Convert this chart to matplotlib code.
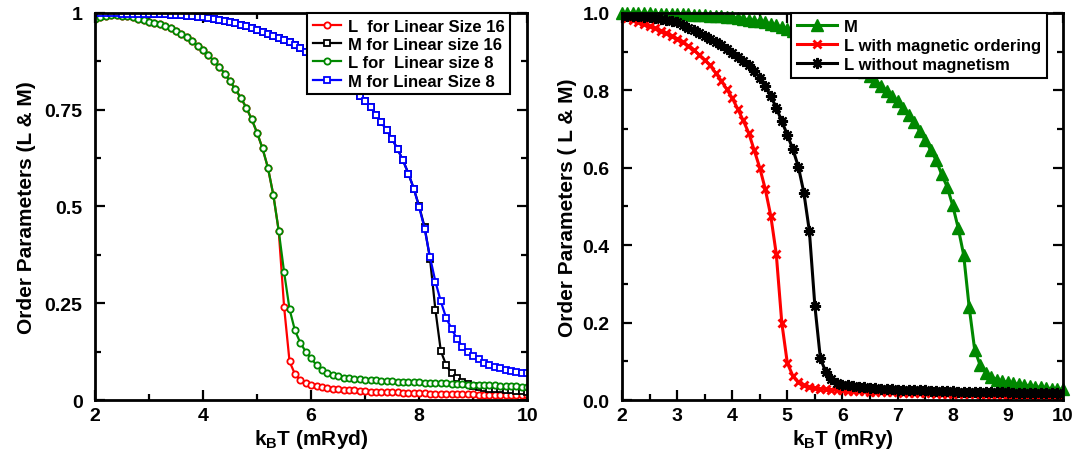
import numpy as np
import matplotlib
matplotlib.use("Agg")
import matplotlib.pyplot as plt
from matplotlib.ticker import MultipleLocator, FixedLocator

plt.rcParams['font.family'] = ['Liberation Sans', 'DejaVu Sans']
plt.rcParams['font.weight'] = 'bold'
plt.rcParams['mathtext.fontset'] = 'custom'
plt.rcParams['mathtext.rm'] = 'Liberation Sans:bold'
plt.rcParams['mathtext.it'] = 'Liberation Sans:bold'
plt.rcParams['mathtext.bf'] = 'Liberation Sans:bold'

# temperature grid (mRyd), same for all series
T = [2.0, 2.1, 2.2, 2.3, 2.4, 2.5, 2.6, 2.7, 2.8, 2.9,
     3.0, 3.1, 3.2, 3.3, 3.4, 3.5, 3.6, 3.7, 3.8, 3.9,
     4.0, 4.1, 4.2, 4.3, 4.4, 4.5, 4.6, 4.7, 4.8, 4.9,
     5.0, 5.1, 5.2, 5.3, 5.4, 5.5, 5.6, 5.7, 5.8, 5.9,
     6.0, 6.1, 6.2, 6.3, 6.4, 6.5, 6.6, 6.7, 6.8, 6.9,
     7.0, 7.1, 7.2, 7.3, 7.4, 7.5, 7.6, 7.7, 7.8, 7.9,
     8.0, 8.1, 8.2, 8.3, 8.4, 8.5, 8.6, 8.7, 8.8, 8.9,
     9.0, 9.1, 9.2, 9.3, 9.4, 9.5, 9.6, 9.7, 9.8, 9.9, 10.0]

# ---- left panel: finite size comparison ----
L_size16 = [0.985, 0.990, 0.993, 0.994, 0.994, 0.993, 0.991, 0.988, 0.985, 0.981,
            0.977, 0.974, 0.970, 0.965, 0.960, 0.953, 0.946, 0.937, 0.927, 0.915,
            0.903, 0.890, 0.876, 0.861, 0.843, 0.823, 0.802, 0.780, 0.755, 0.725,
            0.690, 0.650, 0.600, 0.530, 0.437, 0.240, 0.100, 0.067, 0.052, 0.045,
            0.040, 0.037, 0.034, 0.032, 0.030, 0.028, 0.027, 0.026, 0.025, 0.024,
            0.023, 0.022, 0.022, 0.021, 0.021, 0.020, 0.020, 0.019, 0.019, 0.018,
            0.018, 0.018, 0.017, 0.017, 0.017, 0.016, 0.016, 0.016, 0.015, 0.015,
            0.015, 0.014, 0.014, 0.014, 0.014, 0.013, 0.013, 0.013, 0.012, 0.012, 0.012]

M_size16 = [0.999, 0.999, 0.999, 0.999, 0.999, 0.998, 0.998, 0.998, 0.998, 0.997,
            0.997, 0.997, 0.996, 0.996, 0.995, 0.995, 0.994, 0.993, 0.992, 0.990,
            0.989, 0.987, 0.985, 0.982, 0.980, 0.977, 0.973, 0.969, 0.965, 0.961,
            0.956, 0.951, 0.946, 0.941, 0.936, 0.931, 0.925, 0.917, 0.908, 0.899,
            0.889, 0.879, 0.868, 0.857, 0.846, 0.835, 0.823, 0.811, 0.799, 0.786,
            0.771, 0.756, 0.737, 0.717, 0.697, 0.674, 0.648, 0.619, 0.585, 0.546,
            0.500, 0.447, 0.365, 0.233, 0.127, 0.090, 0.070, 0.058, 0.047, 0.041,
            0.037, 0.034, 0.032, 0.030, 0.029, 0.028, 0.026, 0.025, 0.024, 0.023, 0.022]

L_size8 = [0.985, 0.990, 0.993, 0.994, 0.994, 0.993, 0.991, 0.988, 0.985, 0.981,
           0.977, 0.974, 0.970, 0.965, 0.960, 0.953, 0.946, 0.937, 0.927, 0.915,
           0.903, 0.890, 0.876, 0.861, 0.843, 0.823, 0.802, 0.780, 0.755, 0.725,
           0.690, 0.650, 0.600, 0.530, 0.437, 0.330, 0.235, 0.180, 0.148, 0.125,
           0.108, 0.090, 0.079, 0.071, 0.065, 0.061, 0.058, 0.056, 0.055, 0.054,
           0.053, 0.052, 0.051, 0.050, 0.050, 0.049, 0.048, 0.047, 0.047, 0.046,
           0.046, 0.045, 0.045, 0.044, 0.043, 0.043, 0.042, 0.041, 0.041, 0.040,
           0.040, 0.039, 0.039, 0.038, 0.038, 0.037, 0.037, 0.036, 0.036, 0.035, 0.035]

M_size8 = [0.999, 0.999, 0.999, 0.999, 0.999, 0.998, 0.998, 0.998, 0.998, 0.997,
           0.997, 0.997, 0.996, 0.996, 0.995, 0.995, 0.994, 0.993, 0.992, 0.990,
           0.989, 0.987, 0.985, 0.982, 0.980, 0.977, 0.973, 0.969, 0.965, 0.961,
           0.956, 0.951, 0.946, 0.941, 0.936, 0.931, 0.925, 0.917, 0.908, 0.899,
           0.889, 0.879, 0.868, 0.857, 0.846, 0.835, 0.823, 0.811, 0.799, 0.786,
           0.771, 0.756, 0.737, 0.717, 0.697, 0.674, 0.648, 0.619, 0.585, 0.546,
           0.498, 0.443, 0.369, 0.306, 0.255, 0.212, 0.184, 0.158, 0.138, 0.125,
           0.115, 0.106, 0.097, 0.091, 0.086, 0.083, 0.078, 0.076, 0.073, 0.071, 0.070]

# ---- right panel: with / without magnetism ----
M_mag = [1.000, 1.000, 0.999, 0.999, 0.999, 0.999, 0.998, 0.998, 0.998, 0.997,
         0.997, 0.996, 0.996, 0.995, 0.994, 0.994, 0.993, 0.992, 0.991, 0.990,
         0.988, 0.986, 0.984, 0.982, 0.980, 0.978, 0.975, 0.972, 0.968, 0.963,
         0.958, 0.952, 0.946, 0.940, 0.933, 0.926, 0.918, 0.910, 0.902, 0.894,
         0.885, 0.876, 0.866, 0.856, 0.846, 0.836, 0.825, 0.812, 0.799, 0.786,
         0.771, 0.753, 0.735, 0.718, 0.696, 0.672, 0.646, 0.620, 0.583, 0.551,
         0.503, 0.445, 0.375, 0.240, 0.130, 0.090, 0.071, 0.060, 0.053, 0.049,
         0.046, 0.043, 0.041, 0.039, 0.037, 0.035, 0.033, 0.031, 0.030, 0.029, 0.028]

L_mag = [0.990, 0.986, 0.982, 0.977, 0.972, 0.966, 0.960, 0.954, 0.947, 0.940,
         0.933, 0.924, 0.915, 0.905, 0.892, 0.878, 0.864, 0.845, 0.825, 0.803,
         0.780, 0.752, 0.722, 0.690, 0.645, 0.600, 0.545, 0.476, 0.377, 0.200,
         0.096, 0.063, 0.046, 0.038, 0.033, 0.031, 0.029, 0.028, 0.027, 0.026,
         0.025, 0.024, 0.024, 0.023, 0.023, 0.022, 0.022, 0.021, 0.021, 0.020,
         0.020, 0.019, 0.019, 0.019, 0.018, 0.018, 0.018, 0.017, 0.017, 0.017,
         0.016, 0.016, 0.016, 0.015, 0.015, 0.015, 0.014, 0.014, 0.014, 0.014,
         0.013, 0.013, 0.013, 0.013, 0.012, 0.012, 0.012, 0.012, 0.011, 0.011, 0.011]

L_nomag = [0.993, 0.993, 0.992, 0.991, 0.990, 0.989, 0.987, 0.985, 0.982, 0.979,
           0.975, 0.969, 0.962, 0.955, 0.948, 0.941, 0.933, 0.925, 0.916, 0.907,
           0.897, 0.887, 0.876, 0.864, 0.850, 0.832, 0.810, 0.785, 0.755, 0.720,
           0.685, 0.648, 0.603, 0.536, 0.437, 0.244, 0.108, 0.072, 0.054, 0.045,
           0.040, 0.038, 0.036, 0.035, 0.033, 0.032, 0.031, 0.030, 0.029, 0.028,
           0.027, 0.027, 0.026, 0.026, 0.025, 0.025, 0.024, 0.024, 0.024, 0.023,
           0.023, 0.022, 0.022, 0.022, 0.021, 0.021, 0.021, 0.020, 0.020, 0.020,
           0.020, 0.019, 0.019, 0.019, 0.019, 0.018, 0.018, 0.018, 0.018, 0.018, 0.017]

GREEN = '#008800'


def style_axes(ax):
    for s in ax.spines.values():
        s.set_linewidth(2.0)
    ax.tick_params(which='both', direction='in', top=True, right=True,
                   width=1.6, labelsize=14)
    ax.tick_params(axis='x', pad=5)
    ax.tick_params(axis='y', pad=9)
    ax.tick_params(which='major', length=7)
    ax.tick_params(which='minor', length=4)
    for lab in ax.get_xticklabels() + ax.get_yticklabels():
        lab.set_fontweight('bold')


def boxed_legend(ax, gap_px, hl, spacing):
    # legend flush with the top spine, a small gap from the right spine
    fig_w = ax.figure.get_figwidth() * ax.figure.dpi
    ax_w = ax.get_position().width * fig_w
    leg = ax.legend(loc='upper right', bbox_to_anchor=(1 - gap_px / ax_w, 1.0),
                    fontsize=12, frameon=True, fancybox=False, borderaxespad=0.0,
                    handlelength=hl, handletextpad=0.4, labelspacing=spacing,
                    borderpad=0.35)
    leg.get_frame().set_edgecolor('black')
    leg.get_frame().set_linewidth(1.5)
    leg.get_frame().set_alpha(1.0)
    return leg


fig = plt.figure(figsize=(10.86, 4.6), dpi=100)
ax1 = fig.add_axes([0.0875, 0.128, 0.398, 0.842])
ax2 = fig.add_axes([0.5727, 0.128, 0.406, 0.842])

# left
ax1.plot(T, L_size16, '-o', color='red', lw=1.6, ms=4.5, mfc='white', mew=1.3,
         label='L  for Linear Size 16')
ax1.plot(T, M_size16, '-s', color='black', lw=1.6, ms=4.5, mfc='white', mew=1.3,
         label='M for Linear size 16')
ax1.plot(T, L_size8, '-o', color=GREEN, lw=1.6, ms=4.5, mfc='white', mew=1.3,
         label='L for  Linear size 8')
ax1.plot(T, M_size8, '-s', color='blue', lw=1.6, ms=4.5, mfc='white', mew=1.3,
         label='M for Linear Size 8')
ax1.set_xlim(2, 10)
ax1.set_ylim(0, 1)
ax1.xaxis.set_major_locator(MultipleLocator(2))
ax1.xaxis.set_minor_locator(MultipleLocator(1))
ax1.yaxis.set_major_locator(FixedLocator([0, 0.25, 0.5, 0.75, 1]))
ax1.yaxis.set_minor_locator(MultipleLocator(0.125))
ax1.set_yticklabels(['0', '0.25', '0.5', '0.75', '1'])
ax1.set_xlabel('k$_B$T (mRyd)', fontsize=15, fontweight='bold', labelpad=2)
ax1.set_ylabel('Order Parameters (L & M)', fontsize=15, fontweight='bold', labelpad=6)
style_axes(ax1)
boxed_legend(ax1, 17, 1.7, 0.2)

# right
ax2.plot(T, M_mag, '-^', color=GREEN, lw=2.2, ms=8.5, label='M', clip_on=False)
ax2.plot(T, L_mag, '-x', color='red', lw=2.2, ms=6, mew=2,
         label='L with magnetic ordering')
ax2.plot(T, L_nomag, '-', marker=(8, 2, 0), color='black', lw=2.2, ms=8, mew=1.6,
         label='L without magnetism')
ax2.set_xlim(2, 10)
ax2.set_ylim(0, 1)
ax2.xaxis.set_major_locator(MultipleLocator(1))
ax2.xaxis.set_minor_locator(MultipleLocator(0.5))
ax2.yaxis.set_major_locator(MultipleLocator(0.2))
ax2.yaxis.set_minor_locator(MultipleLocator(0.1))
ax2.yaxis.set_major_formatter(plt.FormatStrFormatter('%.1f'))
ax2.set_xlabel('k$_B$T (mRy)', fontsize=15, fontweight='bold', labelpad=2)
ax2.set_ylabel('Order Parameters ( L & M)', fontsize=15, fontweight='bold', labelpad=4)
style_axes(ax2)
boxed_legend(ax2, 16, 2.4, 0.25)

fig.savefig('out.png', dpi=100)
